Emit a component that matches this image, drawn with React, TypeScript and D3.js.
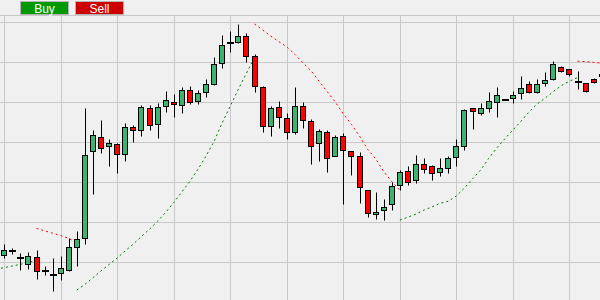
import React from "react";
import * as d3 from "d3";

// ---- data ----
const opens = [101.75, 102.8, 100.9, 99.4, 101.2, 97.75, 96.75, 97.2, 98.1, 103.7, 105.9, 127.7, 131.2, 129.0, 129.5, 126.9, 133.7, 133.0, 138.4, 134.4, 138.9, 140.1, 139.2, 142.9, 140.3, 142.4, 144.5, 149.7, 154.7, 155.1, 156.6, 151.4, 143.7, 134.1, 138.7, 136.1, 132.4, 138.9, 135.2, 129.7, 132.4, 126.5, 131.4, 127.8, 126.4, 118.0, 111.9, 112.9, 114.4, 119.2, 122.7, 120.4, 124.4, 124.0, 122.4, 123.6, 126.3, 129.1, 138.4, 137.3, 138.4, 140.1, 140.5, 140.9, 142.2, 144.4, 142.6, 144.7, 145.8, 148.7, 148.2, 145.1, 144.8, 145.7, 146.5];
const highs = [104.4, 103.6, 102.2, 102.6, 103.0, 99.0, 101.1, 101.5, 106.0, 107.8, 138.4, 133.0, 135.5, 130.7, 129.8, 134.7, 134.3, 139.3, 139.2, 139.7, 142.8, 142.0, 143.8, 144.0, 142.9, 145.7, 151.2, 156.8, 157.8, 159.5, 157.2, 151.9, 144.1, 139.0, 140.2, 137.2, 143.8, 140.0, 135.8, 133.3, 133.1, 131.7, 132.2, 127.8, 127.6, 118.0, 117.6, 115.7, 120.0, 123.0, 124.1, 126.8, 125.9, 124.2, 125.9, 126.5, 130.7, 138.2, 138.5, 139.7, 142.4, 143.7, 140.5, 142.8, 146.5, 145.2, 145.7, 147.4, 150.2, 149.0, 148.2, 147.8, 144.8, 145.9, 147.5];
const lows = [100.9, 102.0, 98.0, 98.2, 95.7, 96.75, 92.8, 95.5, 97.8, 99.1, 104.4, 117.0, 127.3, 124.0, 122.3, 125.3, 130.1, 131.6, 133.0, 131.1, 137.4, 136.3, 137.3, 139.6, 139.6, 141.3, 144.2, 148.6, 152.6, 154.8, 149.9, 142.6, 132.6, 131.5, 133.6, 130.8, 132.0, 133.5, 124.6, 125.2, 122.6, 126.4, 114.5, 121.8, 114.8, 111.3, 110.8, 110.4, 113.1, 118.0, 119.3, 119.8, 122.3, 120.5, 121.4, 122.3, 124.0, 128.0, 133.3, 136.8, 137.6, 136.3, 140.5, 139.7, 140.8, 142.2, 142.2, 144.1, 145.5, 147.4, 146.6, 143.3, 142.5, 144.7, 146.0];
const closes = [103.0, 102.8, 100.9, 101.5, 97.8, 97.75, 96.75, 98.4, 103.7, 105.7, 126.7, 131.7, 128.4, 129.8, 126.9, 133.7, 133.1, 138.7, 134.2, 138.7, 140.4, 139.4, 142.9, 140.1, 142.2, 144.4, 149.6, 154.2, 154.7, 156.4, 151.4, 144.0, 134.1, 138.4, 136.3, 132.4, 138.9, 135.5, 128.9, 132.7, 126.0, 131.2, 127.9, 126.4, 118.7, 112.2, 112.5, 113.7, 118.9, 122.5, 119.9, 124.5, 123.2, 122.2, 123.4, 125.9, 129.1, 138.0, 137.8, 138.4, 140.2, 141.8, 140.5, 141.8, 143.4, 142.4, 144.4, 145.5, 149.5, 147.8, 147.1, 145.1, 142.8, 144.9, 147.1];

// trailing-stop (SAR) segments: first candle index + values
const sarUpStarts = [-1, 9, 49];
const sarUpValues = [
  [98.2, 98.6, 99.0, 99.4, 99.9, 100.4],
  [93.0, 94.4, 96.1, 97.8, 99.4, 101.0, 102.8, 104.5, 106.4, 108.2, 110.2, 112.4, 114.9, 117.5, 120.2, 123.2, 126.5, 130.2, 134.8, 139.0, 143.2, 147.2, 151.2],
  [110.5, 111.2, 112.0, 113.0, 113.8, 114.7, 115.2, 116.5, 118.5, 120.8, 123.0, 125.9, 128.5, 130.8, 133.0, 135.2, 137.5, 139.5, 141.0, 142.6, 144.1, 145.2, 146.1],
];
const sarDownStarts = [4, 31, 71];
const sarDownValues = [
  [108.4, 107.8, 107.2, 106.6, 105.9, 104.8],
  [159.5, 158.0, 156.5, 155.1, 153.8, 151.9, 149.8, 147.8, 145.2, 142.6, 140.0, 137.0, 134.4, 131.5, 128.2, 125.8, 122.6, 120.1, 118.0],
  [150.2, 150.1, 149.9, 149.7],
];

const gridPrices = [100, 110, 120, 130, 140, 150, 160];
const gridEvery = 7;
const buttonLabels = ["Buy", "Sell"];

export default function App() {
  const W = 600;
  const H = 300;
  const top = 15;
  const n = opens.length;
  const x = d3.scaleLinear().domain([0, n - 1]).range([4.2, 4.2 + (n - 1) * 8.075]);
  const y = d3.scaleLinear().domain([100, 160]).range([262, 22]);
  const snap = (v: number) => Math.round(v) + 0.5;

  const vIdx = d3.range(0, n, gridEvery);

  const mkLine = (start: number) =>
    d3
      .line<number>()
      .x((_, k) => x(start + k))
      .y((d) => y(d));

  const buttonColors = ["#009a00", "#cc0000"];

  return (
    <svg
      width={W}
      height={H}
      style={{ position: "absolute", left: 0, top: 0, display: "block" }}
      fontFamily="Liberation Sans, Arial, sans-serif"
    >
      <rect x={0} y={0} width={W} height={H} fill="#f0f0f0" />
      {/* grid */}
      <line x1={0} x2={W} y1={top + 0.5} y2={top + 0.5} stroke="#c8c8c8" />
      {gridPrices.map((p) => (
        <line key={"h" + p} x1={0} x2={W} y1={snap(y(p))} y2={snap(y(p))} stroke="#c8c8c8" />
      ))}
      {vIdx.map((i) => (
        <line key={"v" + i} x1={snap(x(i))} x2={snap(x(i))} y1={top} y2={H} stroke="#c8c8c8" />
      ))}
      {/* SAR lines */}
      {sarUpValues.map((vals, s) => (
        <path
          key={"u" + s}
          d={mkLine(sarUpStarts[s])(vals) || ""}
          fill="none"
          stroke="#007a00"
          strokeWidth={1}
          strokeDasharray="2 3"
        />
      ))}
      {sarDownValues.map((vals, s) => (
        <path
          key={"d" + s}
          d={mkLine(sarDownStarts[s])(vals) || ""}
          fill="none"
          stroke="#ff0000"
          strokeWidth={1}
          strokeDasharray="2 3"
        />
      ))}
      {/* candles */}
      {opens.map((o, i) => {
        const c = closes[i];
        const cx = Math.round(x(i));
        const yh = snap(y(highs[i]));
        const yl = snap(y(lows[i]));
        const doji = Math.abs(o - c) < 0.1;
        if (doji) {
          const yy = Math.round(y(o));
          return (
            <g key={i}>
              {yl - yh > 0.5 && <line x1={cx + 0.5} x2={cx + 0.5} y1={yh} y2={yl} stroke="#000" />}
              <line x1={cx - 3} x2={cx + 4} y1={yy} y2={yy} stroke="#000" strokeWidth={2} />
            </g>
          );
        }
        const up = c > o;
        const yt = snap(y(Math.max(o, c)));
        const yb = snap(y(Math.min(o, c)));
        return (
          <g key={i}>
            <line x1={cx + 0.5} x2={cx + 0.5} y1={yh} y2={yl} stroke="#000" />
            <rect
              x={cx - 2.5}
              y={yt}
              width={5}
              height={Math.max(1, yb - yt)}
              fill={up ? "#3cb371" : "#ff0000"}
              stroke="#000"
              strokeWidth={1}
            />
          </g>
        );
      })}
      {/* buttons */}
      {buttonLabels.map((b, k) => (
        <g key={b} transform={`translate(${20 + k * 55},1)`}>
          <rect x={0.5} y={0.5} width={48} height={13} fill={buttonColors[k]} stroke="#b4b4b4" />
          <text x={24.5} y={11.5} textAnchor="middle" fontSize={12} fill="#ffffff">
            {b}
          </text>
        </g>
      ))}
    </svg>
  );
}
